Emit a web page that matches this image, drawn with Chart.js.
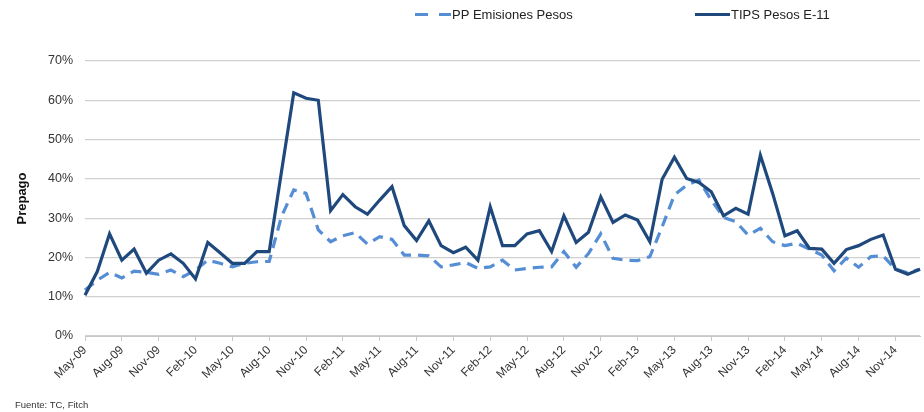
<!DOCTYPE html>
<html>
<head>
<meta charset="utf-8">
<script src="https://cdn.jsdelivr.net/npm/chart.js@4/dist/chart.umd.min.js"></script>
<style>
  html, body { margin: 0; padding: 0; background: #ffffff; }
  #wrap { position: relative; width: 924px; height: 412px; }
  #footer { position: absolute; left: 15px; top: 399px; font-family: "Liberation Sans", Arial, sans-serif; font-size: 9.5px; color: #333333; }
</style>
</head>
<body>
<div id="wrap">
  <canvas id="c" width="924" height="412"></canvas>
  <div id="footer">Fuente: TC, Fitch</div>
</div>
<script>
const months = [
  'May-09','Jun-09','Jul-09','Aug-09','Sep-09','Oct-09','Nov-09','Dec-09',
  'Jan-10','Feb-10','Mar-10','Apr-10','May-10','Jun-10','Jul-10','Aug-10','Sep-10','Oct-10','Nov-10','Dec-10',
  'Jan-11','Feb-11','Mar-11','Apr-11','May-11','Jun-11','Jul-11','Aug-11','Sep-11','Oct-11','Nov-11','Dec-11',
  'Jan-12','Feb-12','Mar-12','Apr-12','May-12','Jun-12','Jul-12','Aug-12','Sep-12','Oct-12','Nov-12','Dec-12',
  'Jan-13','Feb-13','Mar-13','Apr-13','May-13','Jun-13','Jul-13','Aug-13','Sep-13','Oct-13','Nov-13','Dec-13',
  'Jan-14','Feb-14','Mar-14','Apr-14','May-14','Jun-14','Jul-14','Aug-14','Sep-14','Oct-14','Nov-14','Dec-14',
  'Jan-15'
];

const ppEmisionesPesos = [
  11.7, 14.2, 16.2, 14.8, 16.5, 16.2, 15.7, 16.8, 15.1, 16.8,
  19.3, 18.5, 17.6, 18.5, 18.9, 19.0, 30.4, 37.2, 36.3, 27.0,
  24.0, 25.5, 26.3, 23.4, 25.3, 24.6, 20.6, 20.6, 20.4, 17.6,
  18.1, 18.7, 17.2, 17.6, 19.3, 16.8, 17.2, 17.5, 17.6, 21.5,
  17.5, 21.0, 26.0, 19.8, 19.3, 19.2, 20.2, 27.8, 35.9, 38.4,
  39.7, 34.6, 30.2, 29.1, 25.7, 27.4, 24.0, 23.0, 23.6, 22.1,
  20.6, 16.6, 19.8, 17.5, 20.2, 20.4, 17.0, 16.1, 17.0
];

const tipsPesosE11 = [
  10.4, 16.4, 26.0, 19.3, 22.1, 16.0, 19.3, 20.9, 18.5, 14.5,
  23.8, 21.2, 18.5, 18.5, 21.5, 21.5, 41.8, 61.9, 60.5, 60.0,
  31.9, 36.0, 32.9, 31.0, 34.6, 38.0, 28.1, 24.3, 29.3, 23.0,
  21.2, 22.6, 19.3, 32.9, 23.0, 23.0, 26.0, 26.8, 21.5, 30.6,
  23.8, 26.4, 35.4, 28.9, 30.8, 29.5, 24.0, 39.9, 45.5, 40.1,
  39.1, 36.7, 30.6, 32.5, 31.0, 46.0, 36.3, 25.5, 26.8, 22.3,
  22.1, 18.5, 22.0, 23.0, 24.6, 25.7, 17.0, 15.7, 17.0
];

const seriesNames = ['PP Emisiones Pesos', 'TIPS Pesos E-11'];
const yTicks = [0, 10, 20, 30, 40, 50, 60, 70];
const yTitle = 'Prepago';

const FONT = '"Liberation Sans", Arial, sans-serif';

// Custom legend drawn at the top, matching the reference placement
const legendPlugin = {
  id: 'topLegend',
  afterDraw(chart) {
    const ctx = chart.ctx;
    const slots = [{ x: 415, w: 36 }, { x: 695, w: 35 }];
    const y = 14.5;
    chart.data.datasets.forEach((ds, i) => {
      const s = slots[i];
      ctx.save();
      ctx.strokeStyle = ds.borderColor;
      ctx.lineWidth = ds.borderWidth;
      ctx.setLineDash(ds.borderDash ? [13, 11] : []);
      ctx.beginPath();
      ctx.moveTo(s.x, y);
      ctx.lineTo(s.x + s.w, y);
      ctx.stroke();
      ctx.setLineDash([]);
      ctx.fillStyle = '#222222';
      ctx.font = '13px ' + FONT;
      ctx.textBaseline = 'middle';
      ctx.textAlign = 'left';
      ctx.fillText(ds.label, s.x + s.w + 1, y + 0.5);
      ctx.restore();
    });
  }
};

new Chart(document.getElementById('c'), {
  type: 'line',
  data: {
    labels: months,
    datasets: [
      {
        label: seriesNames[0],
        data: ppEmisionesPesos,
        borderColor: '#558ed5',
        backgroundColor: '#558ed5',
        borderWidth: 3.2,
        borderDash: [11, 7],
        pointRadius: 0,
        tension: 0,
        fill: false,
        order: 1
      },
      {
        label: seriesNames[1],
        data: tipsPesosE11,
        borderColor: '#1f497d',
        backgroundColor: '#1f497d',
        borderWidth: 3.2,
        pointRadius: 0,
        tension: 0,
        fill: false,
        order: 0
      }
    ]
  },
  options: {
    responsive: false,
    animation: false,
    devicePixelRatio: 1,
    layout: { padding: { top: 61, left: 0, right: 4, bottom: 0 } },
    plugins: {
      legend: { display: false },
      tooltip: { enabled: false },
      title: { display: false }
    },
    scales: {
      x: {
        type: 'category',
        offset: false,
        afterFit(scale) { scale.height = 76; scale.paddingRight = 0; scale.paddingLeft = 0; },
        border: { display: true, color: '#c8c8c8', width: 1 },
        grid: {
          drawOnChartArea: false,
          drawTicks: true,
          tickLength: 5,
          offset: false,
          color: (c) => (c.index % 3 === 0 ? '#c8c8c8' : 'rgba(0,0,0,0)')
        },
        ticks: {
          autoSkip: false,
          minRotation: 45,
          maxRotation: 45,
          padding: 2,
          color: '#333333',
          font: { family: FONT, size: 12 },
          callback: function (v, i) { return i % 3 === 0 ? months[i] : ''; }
        }
      },
      y: {
        min: 0,
        max: 70,
        afterFit(scale) { scale.width = 85; },
        afterBuildTicks(scale) { scale.ticks = yTicks.map(v => ({ value: v })); },
        border: { display: false },
        grid: {
          color: '#d0d0d0',
          lineWidth: 1.2,
          drawTicks: false
        },
        ticks: {
          padding: 12,
          color: '#333333',
          font: { family: FONT, size: 12.5 },
          callback: (v) => v + '%'
        },
        title: {
          display: true,
          text: yTitle,
          color: '#111111',
          font: { family: FONT, size: 13, weight: 'bold' },
          padding: { top: 15, bottom: 0 }
        }
      }
    }
  },
  plugins: [legendPlugin]
});
</script>
</body>
</html>
